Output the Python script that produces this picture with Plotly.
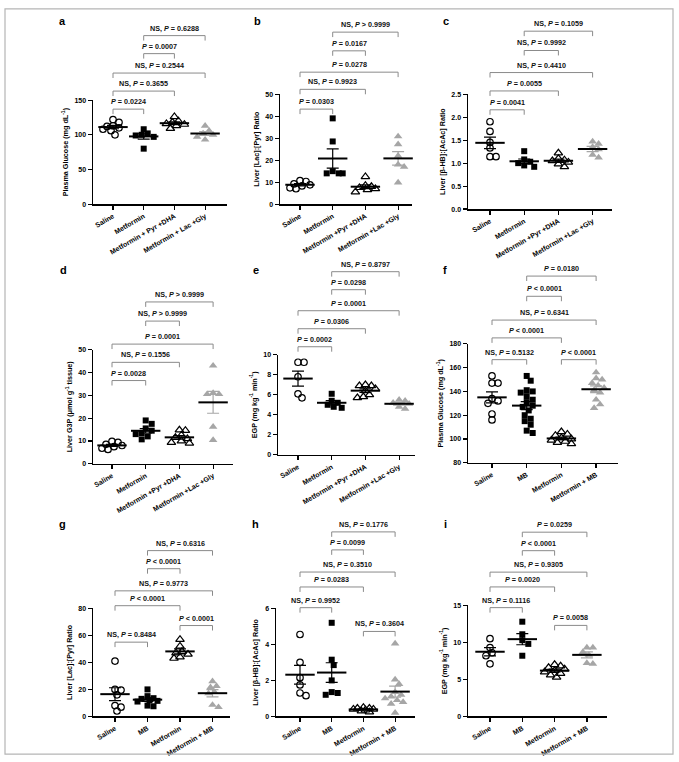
import numpy as np
import plotly.graph_objects as go

W, H = 679, 762
FONT = "Liberation Sans, Arial, sans-serif"
GRAY = "#a6a6a6"
BRK = "#8a8a8a"

# ---------------- categories ----------------
groups_1 = ["Saline", "Metformin", "Metformin + Pyr +DHA", "Metformin + Lac +Gly"]
groups_2 = ["Saline", "Metformin", "Metformin +Pyr +DHA", "Metformin +Lac +Gly"]
groups_3 = ["Saline", "MB", "Metformin", "Metformin + MB"]

# ---------------- values ----------------
a_saline = [122, 118, 113, 112, 110, 108, 106, 100]
a_met = [108, 102, 100, 99, 97, 80]
a_pyr = [126, 120, 118, 116, 115, 113, 109]
a_lac = [113, 106, 102, 100, 97, 93]

b_saline = [10.7, 10.3, 9.2, 8.8, 8.3, 7.4, 7.0]
b_met = [39, 28.5, 15, 14, 14, 14]
b_pyr = [12.5, 8.5, 8, 7.5, 7, 6.5, 5.5]
b_lac = [30.8, 27.2, 22, 18, 17, 9.8]

c_saline = [1.9, 1.69, 1.45, 1.33, 1.14, 1.14]
c_met = [1.26, 1.08, 1.03, 1.0, 0.95, 0.92]
c_pyr = [1.22, 1.1, 1.07, 1.05, 1.02, 0.98, 0.92]
c_lac = [1.47, 1.42, 1.35, 1.3, 1.18, 1.12]

d_saline = [9.8, 9.4, 8.5, 8.0, 7.5, 6.8, 6.3]
d_met = [19, 17.5, 15.5, 14.5, 13.5, 13, 12, 10.7]
d_pyr = [14.8, 14.6, 12.5, 11.5, 11, 10, 9.3, 9.0]
d_lac = [43, 31, 30.5, 30.5, 16.2, 10.4]

e_saline = [9.25, 9.25, 7.8, 6.1, 5.7]
e_met = [6.1, 5.4, 5.2, 5.0, 4.8, 4.7]
e_pyr = [7.0, 6.9, 6.9, 6.6, 6.4, 6.0, 5.8, 5.7]
e_lac = [5.5, 5.4, 5.2, 5.1, 4.8, 4.6]

f_saline = [153, 147, 147, 134, 132, 130, 121, 116]
f_mb = [153, 149, 141, 140, 139, 136, 133, 131, 128, 127, 124, 120, 117, 115, 112, 107, 105]
f_met = [106, 104, 103, 101, 100, 99, 98, 97, 96]
f_metmb = [156, 151, 150, 147, 145, 143, 141, 139, 133, 129, 126]

g_saline = [41, 20, 19.5, 16, 8, 6.8, 4]
g_mb = [20, 15, 13.5, 13, 12, 11.5, 11, 8, 7.5]
g_met = [57, 52, 48, 47, 46, 44, 43]
g_metmb = [26, 22.5, 21.5, 18, 17, 8.5, 6.8]

h_saline = [4.55, 3.0, 2.15, 1.75, 1.3, 1.15]
h_mb = [5.2, 3.15, 2.85, 2.0, 1.35, 1.3, 1.2]
h_met = [0.5, 0.45, 0.45, 0.4, 0.4, 0.35, 0.3, 0.25]
h_metmb = [4.05, 2.05, 1.8, 1.35, 1.2, 1.1, 1.0, 0.9, 0.8, 0.7, 0.2]

i_saline = [10.5, 9.3, 8.6, 8.2, 7.1]
i_mb = [12.8, 11.1, 10.3, 9.8, 8.2]
i_met = [7.0, 6.8, 6.6, 6.4, 6.2, 6.0, 5.8, 5.6, 5.3]
i_metmb = [9.3, 9.3, 8.7, 8.3, 7.2, 7.1]

# ---------------- comparisons ----------------
pairs_4 = [(0, 1), (0, 2), (0, 3), (1, 2), (1, 3)]
pairs_6 = [(0, 1), (2, 3), (0, 2), (0, 3), (1, 2), (1, 3)]

a_p = ["P = 0.0224", "NS, P = 0.3655", "NS, P = 0.2544", "P = 0.0007", "NS, P = 0.6288"]
b_p = ["P = 0.0303", "NS, P = 0.9923", "P = 0.0278", "P = 0.0167", "NS, P > 0.9999"]
c_p = ["P = 0.0041", "P = 0.0055", "NS, P = 0.4410", "NS, P = 0.9992", "NS, P = 0.1059"]
d_p = ["P = 0.0028", "NS, P = 0.1556", "P = 0.0001", "NS, P > 0.9999", "NS, P > 0.9999"]
e_p = ["P = 0.0002", "P = 0.0306", "P = 0.0001", "P = 0.0298", "NS, P = 0.8797"]
f_p = ["NS, P = 0.5132", "P < 0.0001", "P < 0.0001", "NS, P = 0.6341", "P < 0.0001", "P = 0.0180"]
g_p = ["NS, P = 0.8484", "P < 0.0001", "P < 0.0001", "NS, P = 0.9773", "P < 0.0001", "NS, P = 0.6316"]
h_p = ["NS, P = 0.9952", "NS, P = 0.3604", "P = 0.0283", "NS, P = 0.3510", "P = 0.0099", "NS, P = 0.1776"]
i_p = ["NS, P = 0.1116", "P = 0.0058", "P = 0.0020", "NS, P = 0.9305", "P < 0.0001", "P = 0.0259"]

# ---------------- panel definitions ----------------
panels = [
    dict(label="a", cats=groups_1, data=[a_saline, a_met, a_pyr, a_lac],
         ytitle="Plasma Glucose (mg dL<sup>-1</sup>)", yticks=[0, 50, 100, 150], fmt="",
         pairs=pairs_4, ptext=a_p),
    dict(label="b", cats=groups_2, data=[b_saline, b_met, b_pyr, b_lac],
         ytitle="Liver [Lac]:[Pyr] Ratio", yticks=[0, 10, 20, 30, 40, 50], fmt="",
         pairs=pairs_4, ptext=b_p),
    dict(label="c", cats=groups_2, data=[c_saline, c_met, c_pyr, c_lac],
         ytitle="Liver [β-HB]:[AcAc] Ratio", yticks=[0, 0.5, 1.0, 1.5, 2.0, 2.5], fmt=".1f",
         pairs=pairs_4, ptext=c_p),
    dict(label="d", cats=groups_2, data=[d_saline, d_met, d_pyr, d_lac],
         ytitle="Liver G3P (μmol g<sup>-1</sup> tissue)", yticks=[0, 10, 20, 30, 40, 50], fmt="",
         pairs=pairs_4, ptext=d_p),
    dict(label="e", cats=groups_2, data=[e_saline, e_met, e_pyr, e_lac],
         ytitle="EGP (mg kg<sup>-1</sup> min<sup>-1</sup>)", yticks=[0, 2, 4, 6, 8, 10], fmt="",
         pairs=pairs_4, ptext=e_p),
    dict(label="f", cats=groups_3, data=[f_saline, f_mb, f_met, f_metmb],
         ytitle="Plasma Glucose (mg dL<sup>-1</sup>)", yticks=[80, 100, 120, 140, 160, 180], fmt="",
         pairs=pairs_6, ptext=f_p),
    dict(label="g", cats=groups_3, data=[g_saline, g_mb, g_met, g_metmb],
         ytitle="Liver [Lac]:[Pyr] Ratio", yticks=[0, 20, 40, 60, 80], fmt="",
         pairs=pairs_6, ptext=g_p),
    dict(label="h", cats=groups_3, data=[h_saline, h_mb, h_met, h_metmb],
         ytitle="Liver [β-HB]:[AcAc] Ratio", yticks=[0, 2, 4, 6], fmt="",
         pairs=pairs_6, ptext=h_p),
    dict(label="i", cats=groups_3, data=[i_saline, i_mb, i_met, i_metmb],
         ytitle="EGP (mg kg<sup>-1</sup> min<sup>-1</sup>)", yticks=[0, 5, 10, 15], fmt="",
         pairs=pairs_6, ptext=i_p),
]

# layout geometry (pixels) and bracket heights (axis units)
geom = {
    "a": dict(xl=93, xr=227, c0=113, sp=30.7, yt=97, yb=202, yr=(0, 150), top=12, lab=(62, 17),
              lev=[137, 163, 189, 217, 243]),
    "b": dict(xl=280, xr=412, c0=300, sp=32.7, yt=91, yb=202, yr=(0, 50), top=12, lab=(257, 17),
              lev=[43.2, 52.2, 60, 69.7, 78.2]),
    "c": dict(xl=468, xr=612, c0=490, sp=34.2, yt=91, yb=207, yr=(0, 2.5), top=12, lab=(446, 17),
              lev=[2.16, 2.57, 2.97, 3.45, 3.87]),
    "d": dict(xl=93, xr=233, c0=112, sp=33.7, yt=349, yb=464, yr=(0, 50), top=258, lab=(63, 268),
              lev=[36.5, 44.5, 52.5, 62.6, 71]),
    "e": dict(xl=278, xr=415, c0=298, sp=33.7, yt=354, yb=455, yr=(0, 10), top=258, lab=(256, 268),
              lev=[10.8, 12.6, 14.4, 16.5, 18.3]),
    "f": dict(xl=468, xr=618, c0=492, sp=34.7, yt=343, yb=463, yr=(80, 180), top=258, lab=(445, 268),
              lev=[166.7, 166.7, 185, 200, 220, 237]),
    "g": dict(xl=93, xr=230, c0=115, sp=32.5, yt=610, yb=719, yr=(0, 80), top=515, lab=(62, 525),
              lev=[55, 67.3, 82, 93, 109.4, 122.8]),
    "h": dict(xl=276, xr=415, c0=300, sp=31.7, yt=610, yb=719, yr=(0, 6), top=515, lab=(255, 525),
              lev=[6.04, 4.72, 7.19, 8.02, 9.25, 10.25]),
    "i": dict(xl=468, xr=607, c0=490, sp=32.3, yt=607, yb=719, yr=(0, 15), top=515, lab=(445, 525),
              lev=[14.7, 12.3, 17.5, 19.5, 22.4, 24.9]),
}

styles = [
    dict(symbol="circle-open", size=6.5, color="black", lw=1.2, err="black"),
    dict(symbol="square", size=6, color="black", lw=0, err="black"),
    dict(symbol="triangle-up-open", size=7.5, color="black", lw=1.2, err="black"),
    dict(symbol="triangle-up", size=7.5, color=GRAY, lw=0, err=GRAY),
]


def swarm(vals, ppu, sp, dmin=5.5, step=2.0, maxoff=10.0):
    """Spread points that sit at similar values sideways (pixel-based)."""
    vals = np.asarray(vals, float)
    order = np.argsort(-vals, kind="stable")
    placed = []
    offs = np.zeros(len(vals))
    cands = [0.0]
    k = 1
    while k * step <= maxoff:
        cands += [k * step, -k * step]
        k += 1
    for idx in order:
        y = vals[idx] * ppu
        best, bestd = 0.0, -1.0
        for c in cands:
            dmin_here = min([np.hypot(c - px, y - py) for px, py in placed] or [1e9])
            if dmin_here >= dmin:
                best = c
                break
            if dmin_here > bestd:
                best, bestd = c, dmin_here
        placed.append((best, y))
        offs[idx] = best / sp
    return offs


def ptxt(s):
    return s.replace("P ", "<i>P</i> ")


fig = go.Figure()
layout = dict(
    width=W, height=H, margin=dict(l=0, r=0, t=0, b=0),
    paper_bgcolor="white", plot_bgcolor="rgba(0,0,0,0)",
    showlegend=False, font=dict(family=FONT, size=7, color="black"),
)
annotations = []

for k, p in enumerate(panels, start=1):
    g = geom[p["label"]]
    xa = "x" if k == 1 else f"x{k}"
    ya = "y" if k == 1 else f"y{k}"
    yb_name = f"y{9 + k}"
    r0, r1 = g["yr"]
    ppu = (g["yb"] - g["yt"]) / (r1 - r0)
    xr = [(g["xl"] - g["c0"]) / g["sp"], (g["xr"] - g["c0"]) / g["sp"]]

    # data points
    for gi, vals in enumerate(p["data"]):
        st = styles[gi]
        offs = swarm(vals, ppu, g["sp"])
        fig.add_trace(go.Scatter(
            x=gi + offs, y=vals, mode="markers", xaxis=xa, yaxis=ya, cliponaxis=False,
            marker=dict(symbol=st["symbol"], size=st["size"], color=st["color"],
                        line=dict(width=st["lw"], color=st["color"])),
            hoverinfo="skip"))
    # mean +/- SEM
    for gi, vals in enumerate(p["data"]):
        st = styles[gi]
        v = np.asarray(vals, float)
        m = v.mean()
        sem = v.std(ddof=1) / np.sqrt(len(v))
        fig.add_trace(go.Scatter(
            x=[gi], y=[m], mode="markers", xaxis=xa, yaxis=ya, cliponaxis=False,
            marker=dict(symbol="line-ew", size=21, color="black",
                        line=dict(width=2, color="black")),
            error_y=dict(type="data", array=[sem], color=st["err"], thickness=1.2, width=6),
            hoverinfo="skip"))

    # brackets
    leg = 5.0 / ppu
    bx, by = [], []
    for (i, j), lv, txt in zip(p["pairs"], g["lev"], p["ptext"]):
        bx += [i, i, j, j, None]
        by += [lv - leg, lv, lv, lv - leg, None]
        annotations.append(dict(
            x=(i + j) / 2, y=lv, xref=xa, yref=yb_name, text=ptxt(txt), showarrow=False,
            yanchor="bottom", xanchor="center", yshift=1,
            font=dict(family=FONT, size=7.2, color="#111111", weight="bold")))
    fig.add_trace(go.Scatter(x=bx, y=by, mode="lines", xaxis=xa, yaxis=yb_name,
                             line=dict(color=BRK, width=1), hoverinfo="skip"))

    xkey = "xaxis" if k == 1 else f"xaxis{k}"
    ykey = "yaxis" if k == 1 else f"yaxis{k}"
    layout[xkey] = dict(
        domain=[g["xl"] / W, g["xr"] / W], range=xr, anchor=ya,
        tickvals=[0, 1, 2, 3], ticktext=p["cats"], tickangle=-30,
        tickfont=dict(family=FONT, size=7, weight="bold"),
        showline=True, linecolor="black", linewidth=1.5,
        ticks="outside", ticklen=4, tickwidth=1.2, tickcolor="black",
        showgrid=False, zeroline=False, fixedrange=True)
    layout[ykey] = dict(
        domain=[1 - g["yb"] / H, 1 - g["yt"] / H], range=[r0, r1], anchor=xa,
        tickvals=p["yticks"], tickformat=p["fmt"],
        tickfont=dict(family=FONT, size=7, weight="bold"),
        title=dict(text=p["ytitle"], font=dict(family=FONT, size=7.2, weight="bold"), standoff=5),
        showline=True, linecolor="black", linewidth=1.5,
        ticks="outside", ticklen=4, tickwidth=1.2, tickcolor="black",
        showgrid=False, zeroline=False, fixedrange=True)
    ext = r0 + (g["yb"] - g["top"]) / ppu
    layout[f"yaxis{9 + k}"] = dict(
        domain=[1 - g["yb"] / H, 1 - g["top"] / H], range=[r0, ext], anchor=xa,
        visible=False, showgrid=False, zeroline=False, fixedrange=True)

    lx, ly = g["lab"]
    annotations.append(dict(x=lx / W, y=1 - ly / H, xref="paper", yref="paper",
                            text=p["label"], showarrow=False, xanchor="center", yanchor="middle",
                            font=dict(family=FONT, size=11, weight="bold", color="black")))

layout["annotations"] = annotations
layout["shapes"] = [dict(type="rect", xref="paper", yref="paper",
                         x0=5 / W, x1=673 / W, y0=1 - 757 / H, y1=1 - 5 / H,
                         line=dict(color="#b5b5b5", width=1.2), fillcolor="rgba(0,0,0,0)")]
fig.update_layout(**layout)
fig.write_html("out.html", config={"displayModeBar": False, "staticPlot": True},
               post_script="document.body.style.margin='0px';document.body.style.padding='0px';")
